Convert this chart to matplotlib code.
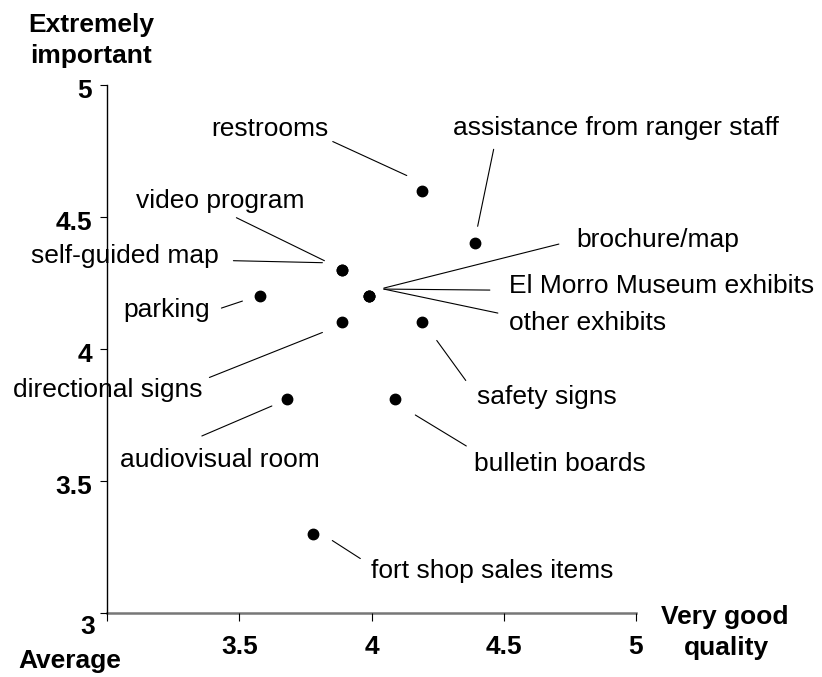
import matplotlib
matplotlib.use("Agg")
from matplotlib import pyplot as plt
from matplotlib.transforms import offset_copy

plt.rcParams['font.family'] = ['Liberation Sans', 'DejaVu Sans']

# data (quality x, importance y)
labels = ["restrooms", "assistance from ranger staff", "video program", "self-guided map",
          "parking", "brochure/map", "El Morro Museum exhibits", "other exhibits",
          "directional signs", "audiovisual room", "safety signs", "bulletin boards",
          "fort shop sales items"]
quality = [4.19, 4.39, 3.89, 3.89, 3.58, 3.99, 3.99, 3.99, 3.89, 3.68, 4.19, 4.09, 3.78]
importance = [4.60, 4.40, 4.30, 4.30, 4.20, 4.20, 4.20, 4.20, 4.10, 3.81, 4.10, 3.81, 3.30]

xticks = [3, 3.5, 4, 4.5, 5]
xticklabels = ["", "3.5", "4", "4.5", "5"]
yticks = [3, 3.5, 4, 4.5, 5]
yticklabels = ["3", "3.5", "4", "4.5", "5"]

# label layout, pixels relative to the dot: text (left, baseline), leader start, leader end
text_off = [(-211, 55), (-22, 108), (-206, 62), (-311, 7), (-137, -21), (207, 49), (140, 3),
            (140, -34), (-329, -75), (-167, -68), (55, -82), (79, -72), (58, -44)]
lead_a = [(-89, 49), (19, 94), (-106, 52), (-109, 9), (-39, -12), (15, 8), (15, 7),
          (15, 7), (-133, -55), (-85, -37), (15, -18), (20, -16), (19, -7)]
lead_b = [(-15, 15), (3, 17), (-18, 9), (-20, 7), (-18, -5), (190, 52), (121, 6),
          (129, -17), (-20, -10), (-15, -7), (44, -58), (71, -47), (47, -25)]

FS = 19

fig = plt.figure(figsize=(8.22, 6.77), dpi=100)
ax = fig.add_axes([107/822, (677-612.7)/677, (636-107)/822, (612.7-85)/677])
ax.set_xlim(3, 5)
ax.set_ylim(3, 5)

ax.plot(quality, importance, 'o', color='black', markersize=7.5, linestyle='none', zorder=3)

for i, lab in enumerate(labels):
    x, y = quality[i], importance[i]
    ax.annotate(lab, xy=(x, y), xytext=text_off[i], textcoords='offset pixels',
                ha='left', va='baseline', fontsize=FS)
    bx, by = lead_b[i]
    axx, ayy = lead_a[i]
    tr = offset_copy(ax.transData, fig=fig, x=bx, y=by, units='dots')
    ax.annotate("", xy=(x, y), xycoords=tr, xytext=(axx-bx, ayy-by), textcoords='offset pixels',
                arrowprops=dict(arrowstyle='-', color='black', lw=0.8, shrinkA=0, shrinkB=0))

ax.spines['top'].set_visible(False)
ax.spines['right'].set_visible(False)
ax.spines['left'].set_color('black')
ax.spines['left'].set_linewidth(1)
ax.spines['bottom'].set_color('#777777')
ax.spines['bottom'].set_linewidth(1.8)
ax.spines['bottom'].set_zorder(1)

ax.set_xticks(xticks)
ax.set_xticklabels(xticklabels, fontsize=FS, fontweight='bold')
ax.tick_params(axis='x', direction='out', length=5.8, width=0.8, color='black', pad=10)
ax.set_yticks(yticks)
ax.set_yticklabels([])
ax.tick_params(axis='y', direction='out', length=5, width=0.8, color='black')

for v, lab in zip(yticks, yticklabels):
    dx, dy = (-12, -14) if v == 3 else (-15, -6)
    ax.annotate(lab, xy=(0, v), xycoords=ax.get_yaxis_transform(), xytext=(dx, dy),
                textcoords='offset pixels', ha='right', va='center', fontsize=FS, fontweight='bold')

# axis captions
fig.text(91/822, 1-32/677, "Extremely", ha='center', va='baseline', fontsize=FS, fontweight='bold')
fig.text(91/822, 1-63/677, "important", ha='center', va='baseline', fontsize=FS, fontweight='bold')
fig.text(70/822, 1-668/677, "Average", ha='center', va='baseline', fontsize=FS, fontweight='bold')
fig.text(725/822, 1-624/677, "Very good", ha='center', va='baseline', fontsize=FS, fontweight='bold')
fig.text(726/822, 1-655/677, "quality", ha='center', va='baseline', fontsize=FS, fontweight='bold')

plt.savefig("out.png", dpi=100)
